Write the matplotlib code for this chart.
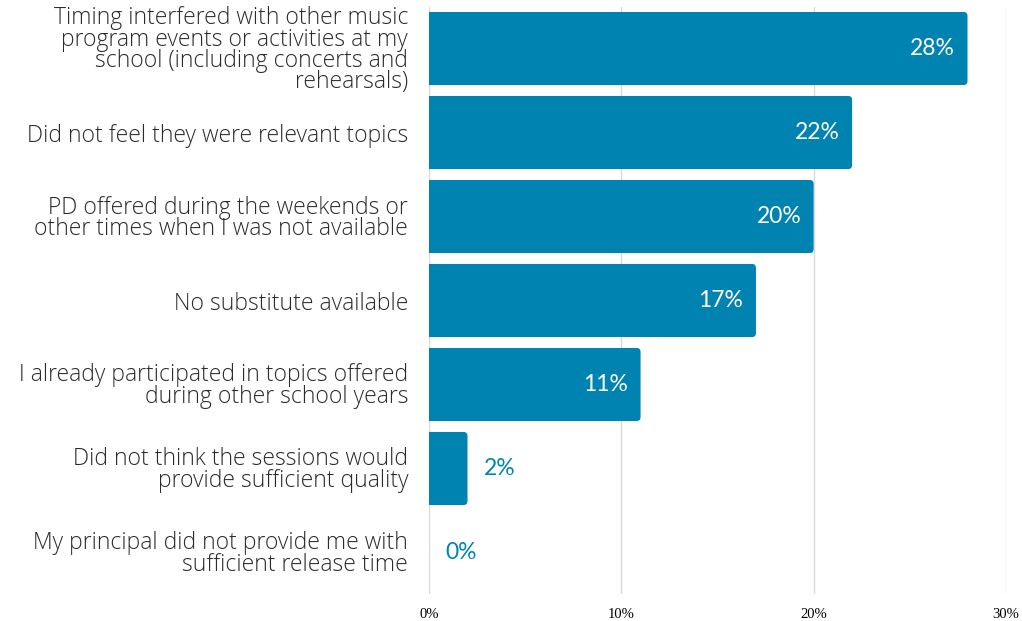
import matplotlib.pyplot as plt
from matplotlib.patches import FancyBboxPatch

# reasons for not attending PD (share of respondents)
reasons = [
    "Timing interfered with other music\nprogram events or activities at my\nschool (including concerts and\nrehearsals)",
    "Did not feel they were relevant topics",
    "PD offered during the weekends or\nother times when I was not available",
    "No substitute available",
    "I already participated in topics offered\nduring other school years",
    "Did not think the sessions would\nprovide sufficient quality",
    "My principal did not provide me with\nsufficient release time",
]
shares = [28, 22, 20, 17, 11, 2, 0]
ticks = [0, 10, 20, 30]
tick_labels = ["0%", "10%", "20%", "30%"]

bar_color = "#0083b0"

fig = plt.figure(figsize=(10.22, 6.21), dpi=100)
ax = fig.add_axes([0.4198, 0.0427, 0.5645, 0.9468])

ypos = list(range(len(reasons)))
bar_h = 0.87
for y, v in zip(ypos, shares):
    if v <= 0:
        continue
    # rounded bar; start left of 0 so the left corners are clipped away
    patch = FancyBboxPatch((-0.4, y - bar_h / 2), v + 0.4, bar_h,
                           boxstyle="round,pad=0,rounding_size=0.2",
                           mutation_aspect=0.24, facecolor=bar_color,
                           edgecolor="none", zorder=3)
    ax.add_patch(patch)

for y, v in zip(ypos, shares):
    if v >= 5:
        ax.text(v - 0.65, y, f"{v}%", ha="right", va="center", color="white",
                fontsize=16.5, family="Lato", zorder=4)
    else:
        ax.text(v + 0.85, y, f"{v}%", ha="left", va="center", color=bar_color,
                fontsize=16.5, family="Lato", zorder=4)

ax.set_xlim(0, 30)
ax.set_ylim(len(reasons) - 0.5, -0.5)
ax.set_xticks(ticks)
ax.set_xticklabels(tick_labels, family="Liberation Serif", fontsize=10.5)
ax.set_yticks(ypos)
ax.set_yticklabels(reasons, family="Open Sans", fontweight="light",
                   fontsize=16.5, color="#2b2b2b", linespacing=0.85)
ax.tick_params(axis="both", length=0)
ax.tick_params(axis="y", pad=15)
ax.tick_params(axis="x", pad=10)
for s in ax.spines.values():
    s.set_visible(False)
ax.grid(axis="x", color="#d9d9d9", linewidth=1, zorder=0)
ax.set_axisbelow(True)

fig.savefig("out.png", dpi=100)
